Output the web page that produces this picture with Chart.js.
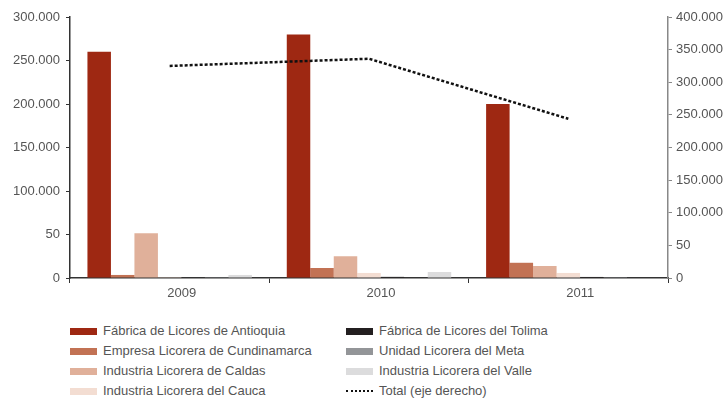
<!DOCTYPE html>
<html>
<head>
<meta charset="utf-8">
<script src="https://cdn.jsdelivr.net/npm/chart.js@4.4.1/dist/chart.umd.min.js"></script>
<style>
  body { margin: 0; background: #fff; font-family: "Liberation Sans", Arial, sans-serif; }
  #wrap { position: relative; width: 728px; height: 310px; }
  #legend { position: absolute; left: 70px; top: 322px; width: 560px; color: #555; font-size: 13px; }
  .item { position: absolute; height: 18px; line-height: 18px; white-space: nowrap; }
  .sw { position: absolute; left: 0; top: 6px; width: 27px; height: 7px; }
  .dot { position: absolute; left: 0; top: 8px; width: 27px; height: 0; border-top: 2.5px dotted #111; }
  .lbl { position: absolute; left: 33px; top: 0; }
</style>
</head>
<body>
<div id="wrap"><canvas id="chart"></canvas></div>
<div id="legend"></div>
<script>
// datos
const years = ['2009', '2010', '2011'];

const antioquia = [260000, 280000, 200000];
const cundinamarca = [3500, 11500, 17500];
const caldas = [51500, 25000, 13800];
const cauca = [1000, 5800, 5800];
const tolima = [0, 1300, 1200];
const meta = [1000, 0, 1000];
const valle = [3500, 6900, 0];
const total = [325000, 336000, 244000];

const leftTicks = ['0', '50', '100.000', '150.000', '200.000', '250.000', '300.000'];
const rightTicks = ['0', '50', '100.000', '150.000', '200.000', '250.000', '300.000', '350.000', '400.000'];

const barSeries = [
    { label: 'Fábrica de Licores de Antioquia', data: antioquia, color: '#9e2812' },
    { label: 'Empresa Licorera de Cundinamarca', data: cundinamarca, color: '#c27254' },
    { label: 'Industria Licorera de Caldas', data: caldas, color: '#e0b09a' },
    { label: 'Industria Licorera del Cauca', data: cauca, color: '#f3ddd2' },
    { label: 'Fábrica de Licores del Tolima', data: tolima, color: '#231f20' },
    { label: 'Unidad Licorera del Meta', data: meta, color: '#939598' },
    { label: 'Industria Licorera del Valle', data: valle, color: '#dcdcdd' }
];

const datasets = barSeries.map(s => ({
    type: 'bar',
    label: s.label,
    data: s.data,
    backgroundColor: s.color,
    borderWidth: 0,
    yAxisID: 'y',
    order: 1,
    barPercentage: 1,
    categoryPercentage: 0.825
}));

datasets.push({
    type: 'line',
    label: 'Total (eje derecho)',
    data: total,
    borderColor: '#111',
    borderWidth: 2.5,
    borderDash: [3, 2],
    pointRadius: 0,
    fill: false,
    tension: 0,
    yAxisID: 'y2',
    order: 0
});

const tickFont = { family: '"Liberation Sans", Arial, sans-serif', size: 13 };

new Chart(document.getElementById('chart'), {
    type: 'bar',
    data: { labels: years, datasets: datasets },
    options: {
        responsive: true,
        maintainAspectRatio: false,
        animation: false,
        layout: { padding: { top: 17, left: 0, right: 0, bottom: 0 } },
        plugins: { legend: { display: false }, tooltip: { enabled: false } },
        scales: {
            x: {
                offset: true,
                border: { display: true, color: '#333', width: 1.5 },
                grid: { display: true, drawOnChartArea: false, drawTicks: true, tickLength: 5, color: '#333', offset: true },
                ticks: { color: '#555', font: tickFont, labelOffset: 12, padding: 3 },
                afterFit: s => { s.height = 32; }
            },
            y: {
                position: 'left',
                min: 0, max: 300000,
                border: { display: true, color: '#333', width: 1.5 },
                grid: { display: true, drawOnChartArea: false, tickLength: 4, color: '#333' },
                ticks: { stepSize: 50000, color: '#555', font: tickFont, padding: 6,
                    callback: (v, i) => leftTicks[i] },
                afterFit: s => { s.width = 70; }
            },
            y2: {
                position: 'right',
                min: 0, max: 400000,
                border: { display: true, color: '#888', width: 1.5 },
                grid: { display: true, drawOnChartArea: false, tickLength: 4, color: '#888' },
                ticks: { stepSize: 50000, color: '#555', font: tickFont, padding: 4,
                    callback: (v, i) => rightTicks[i] },
                afterFit: s => { s.width = 60; }
            }
        }
    }
});

// leyenda en dos columnas
const legend = document.getElementById('legend');
const items = barSeries.map(s => ({ label: s.label, color: s.color }));
items.push({ label: 'Total (eje derecho)', line: true });
items.forEach((it, i) => {
    const col = Math.floor(i / 4), row = i % 4;
    const el = document.createElement('div');
    el.className = 'item';
    el.style.left = (col * 276) + 'px';
    el.style.top = (row * 20) + 'px';
    const sw = document.createElement('span');
    if (it.line) { sw.className = 'dot'; } else { sw.className = 'sw'; sw.style.background = it.color; }
    const lb = document.createElement('span');
    lb.className = 'lbl';
    lb.textContent = it.label;
    el.appendChild(sw);
    el.appendChild(lb);
    legend.appendChild(el);
});
</script>
</body>
</html>
